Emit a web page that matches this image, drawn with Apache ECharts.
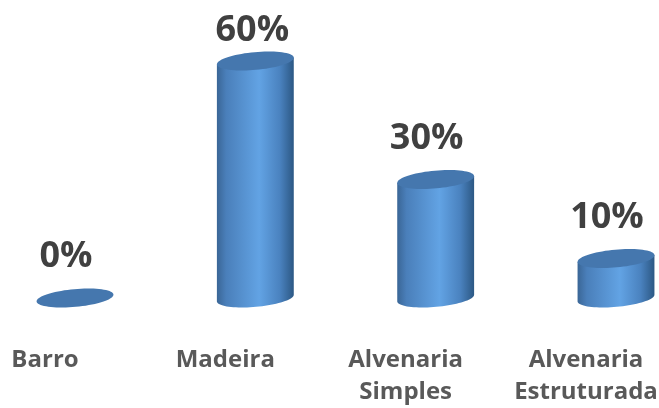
<!DOCTYPE html>
<html>
<head>
<meta charset="utf-8">
<style>
  html, body { margin: 0; padding: 0; background: #ffffff; }
  #chart { width: 659px; height: 408px; }
</style>
<script src="https://cdn.jsdelivr.net/npm/echarts@6/dist/echarts.min.js"></script>
</head>
<body>
<div id="chart"></div>
<script>
// Tipo de construção das moradias (percentual)
const categories = ['Barro', 'Madeira', 'Alvenaria\nSimples', 'Alvenaria\nEstruturada'];
const percentages = [0, 60, 30, 10];

const FONT = "'Open Sans', 'Noto Sans', sans-serif";
const TILT = 0.09;           // inclinação das elipses (rad)
const TOP_COLOR = '#4577ae';

// Ponto de uma elipse inclinada, t em radianos
function ellipsePoint(cx, cy, rx, ry, t) {
  const u = rx * Math.cos(t), v = ry * Math.sin(t);
  return [cx + u * Math.cos(TILT) + v * Math.sin(TILT),
          cy - u * Math.sin(TILT) + v * Math.cos(TILT)];
}

function ellipsePoints(cx, cy, rx, ry, t0, t1, n) {
  const pts = [];
  for (let i = 0; i <= n; i++) {
    pts.push(ellipsePoint(cx, cy, rx, ry, t0 + (t1 - t0) * i / n));
  }
  return pts;
}

function renderCylinder(params, api) {
  const idx = api.value(0);
  const val = api.value(1);
  const base = api.coord([idx, 0]);
  const top = api.coord([idx, val]);
  const band = api.size([1, 0])[0];
  const rx = band * 0.214;
  const ry = rx * 0.23;
  const children = [];

  if (top[1] < base[1] - 0.5) {
    // corpo: metade inferior da base + laterais até o topo
    const body = ellipsePoints(base[0], base[1], rx, ry, 0, Math.PI, 40);
    body.push(ellipsePoint(top[0], top[1], rx, ry, Math.PI));
    body.push(ellipsePoint(top[0], top[1], rx, ry, 0));
    children.push({
      type: 'polygon',
      shape: { points: body },
      style: {
        fill: new echarts.graphic.LinearGradient(0, 0, 1, 0, [
          { offset: 0, color: '#3a6696' },
          { offset: 0.12, color: '#4a7fba' },
          { offset: 0.55, color: '#62a3e4' },
          { offset: 0.82, color: '#4a82bf' },
          { offset: 1, color: '#2c5884' }
        ])
      }
    });
  }
  // tampa superior
  children.push({
    type: 'polygon',
    shape: { points: ellipsePoints(top[0], top[1], rx, ry, 0, Math.PI * 2, 72) },
    style: { fill: TOP_COLOR }
  });

  // rótulo de valor, mantido dentro da área do gráfico
  let ly = top[1] - 41;
  let lx = top[0] - 9;
  if (ly < 31) { ly = 31; lx = top[0] - 3; }
  children.push({
    type: 'text',
    x: lx,
    y: ly,
    style: {
      text: val + '%',
      fill: '#404040',
      font: 'bold 36px ' + FONT,
      align: 'center',
      verticalAlign: 'middle'
    }
  });

  return { type: 'group', children: children };
}

const chart = echarts.init(document.getElementById('chart'), null, { renderer: 'canvas' });
chart.setOption({
  animation: false,
  backgroundColor: '#ffffff',
  grid: { left: 75, right: 43, top: 61, bottom: 110, outerBoundsMode: 'none', containLabel: false },
  xAxis: {
    type: 'category',
    data: categories,
    boundaryGap: false,
    axisLine: { show: false },
    axisTick: { show: false },
    splitLine: { show: false },
    axisLabel: {
      interval: 0,
      margin: 46,
      color: '#595959',
      fontFamily: FONT,
      fontWeight: 'bold',
      fontSize: 24,
      lineHeight: 32,
      align: 'center',
      padding: [0, 60, 0, 0]
    }
  },
  yAxis: {
    type: 'value',
    min: 0,
    max: 60,
    show: false
  },
  series: [{
    type: 'custom',
    clip: false,
    renderItem: renderCylinder,
    encode: { x: 0, y: 1 },
    data: percentages.map((v, i) => [i, v])
  }]
});
</script>
</body>
</html>
